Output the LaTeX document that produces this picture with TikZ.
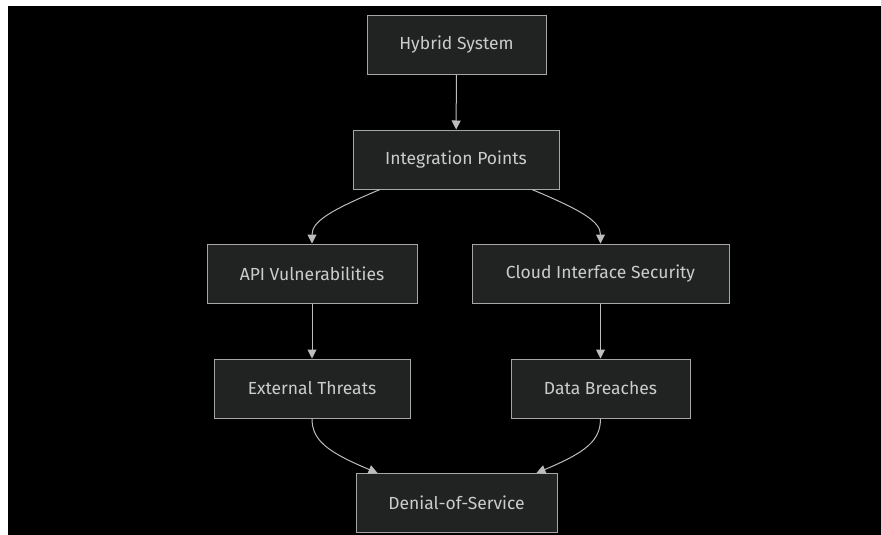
\documentclass[tikz,border=0pt]{standalone}
\usepackage{fontspec}
\setmainfont{Fira Sans}
\usepackage{xcolor}
\usetikzlibrary{arrows.meta,positioning}

\definecolor{boxfill}{HTML}{212222}
\definecolor{boxline}{HTML}{A6A6A6}
\definecolor{boxtext}{HTML}{CCCCCC}
\definecolor{linkcol}{HTML}{BDBDBD}

\begin{document}
\begin{tikzpicture}[
    x=1pt, y=-1pt,
    box/.style={draw=boxline, fill=boxfill, text=boxtext, line width=1pt,
        minimum height=59pt, inner sep=0pt, font=\fontsize{17.5}{21}\selectfont},
    link/.style={draw=linkcol, line width=1pt, -{Triangle[width=9pt,length=9pt]}}
]
% page and dark canvas
\fill[white] (0,0) rectangle (881,535);
\fill[black] (8,6) rectangle (881,535);
\useasboundingbox (0,0) rectangle (881,535);

\node[box, minimum width=179pt] (hybrid) at (456.5,45) {Hybrid System};
\node[box, minimum width=206pt] (integ) at (456,159.5) {Integration Points};
\node[box, minimum width=210pt] (api) at (312,273.5) {API Vulnerabilities};
\node[box, minimum width=257pt] (cloud) at (600.5,273.5) {Cloud Interface Security};
\node[box, minimum width=196pt] (ext) at (312,388.5) {External Threats};
\node[box, minimum width=179pt] (breach) at (600.5,388.5) {Data Breaches};
\node[box, minimum width=201pt] (dos) at (456.5,503) {Denial-of-Service};

\draw[link] (hybrid) -- (integ);
\draw[link] ([xshift=-76pt]integ.south) .. controls +(-50,21) and +(0,-22) .. (api.north);
\draw[link] ([xshift=76pt]integ.south) .. controls +(50,21) and +(0,-22) .. (cloud.north);
\draw[link] (api) -- (ext);
\draw[link] (cloud) -- (breach);
\draw[link] (ext.south) .. controls +(0,22) and +(-50,-21) .. ([xshift=-79pt]dos.north);
\draw[link] (breach.south) .. controls +(0,22) and +(50,-21) .. ([xshift=80pt]dos.north);
\end{tikzpicture}
\end{document}
